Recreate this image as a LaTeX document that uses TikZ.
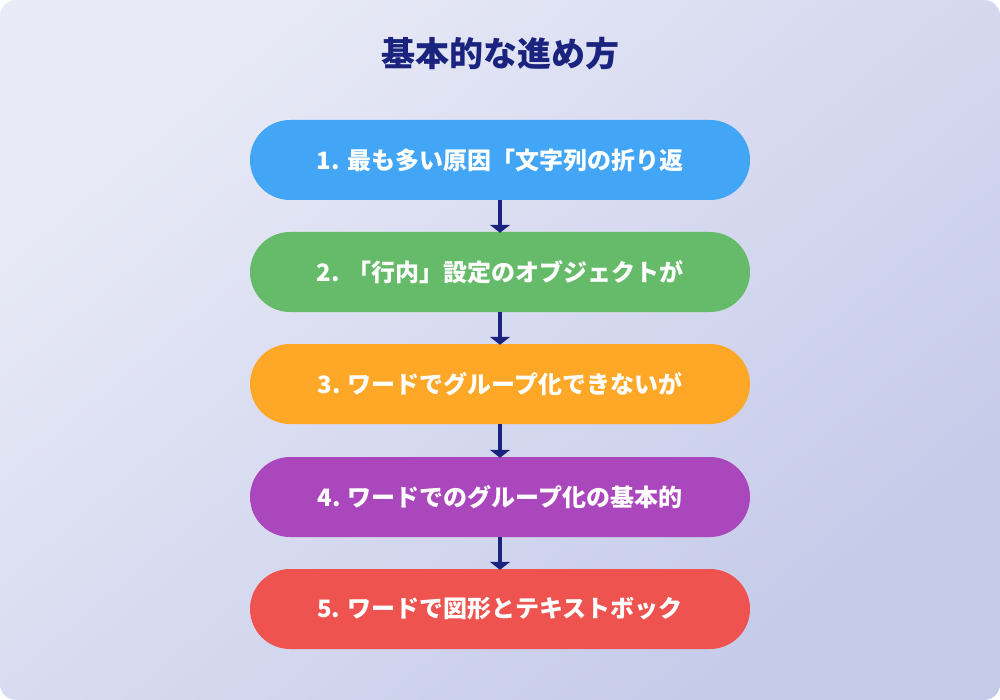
\documentclass[tikz,border=0pt]{standalone}
\usepackage{fontspec}
\usepackage{tikz}
\usetikzlibrary{arrows.meta}
\newfontfamily\cjk{Noto Sans CJK JP}

\definecolor{bgtop}{HTML}{E8EAF6}
\definecolor{bgbot}{HTML}{C5CAE9}
\definecolor{navy}{HTML}{1A237E}
\definecolor{stepblue}{HTML}{42A5F5}
\definecolor{stepgreen}{HTML}{66BB6A}
\definecolor{steporange}{HTML}{FFA726}
\definecolor{steppurple}{HTML}{AB47BC}
\definecolor{stepred}{HTML}{EF5350}

\begin{document}
\begin{tikzpicture}[x=1pt, y=-1pt]
\tikzset{ >={Triangle[width=20pt,length=8pt]},
  pill/.style={rounded corners=40pt, minimum width=500pt, minimum height=80pt,
    inner sep=0pt, text=white, font=\cjk\bfseries\fontsize{24}{30}\selectfont},
  link/.style={->, navy, line width=4pt, shorten >=-1pt},
}

\useasboundingbox (0,0) rectangle (1000,700);
\shade [rounded corners=16pt, top color=bgtop, bottom color=bgbot, shading angle=40]
  (0,0) rectangle (1000,700);

%\draw [lightgray, dashed](0,0) grid[step=100] (1000,700);

\node [text=navy, font=\cjk\bfseries\fontsize{34}{40}\selectfont] (title) at (500,54) {基本的な進め方};

\node [pill, fill=stepblue]   (S1) at (500,160) {1. 最も多い原因「文字列の折り返};
\node [pill, fill=stepgreen]  (S2) at (500,272) {2. 「行内」設定のオブジェクトが};
\node [pill, fill=steporange] (S3) at (500,384) {3. ワードでグループ化できないが};
\node [pill, fill=steppurple] (S4) at (500,497) {4. ワードでのグループ化の基本的};
\node [pill, fill=stepred]    (S5) at (500,609) {5. ワードで図形とテキストボック};

\draw [link] (S1) -- (S2);
\draw [link] (S2) -- (S3);
\draw [link] (S3) -- (S4);
\draw [link] (S4) -- (S5);
\end{tikzpicture}
\end{document}
